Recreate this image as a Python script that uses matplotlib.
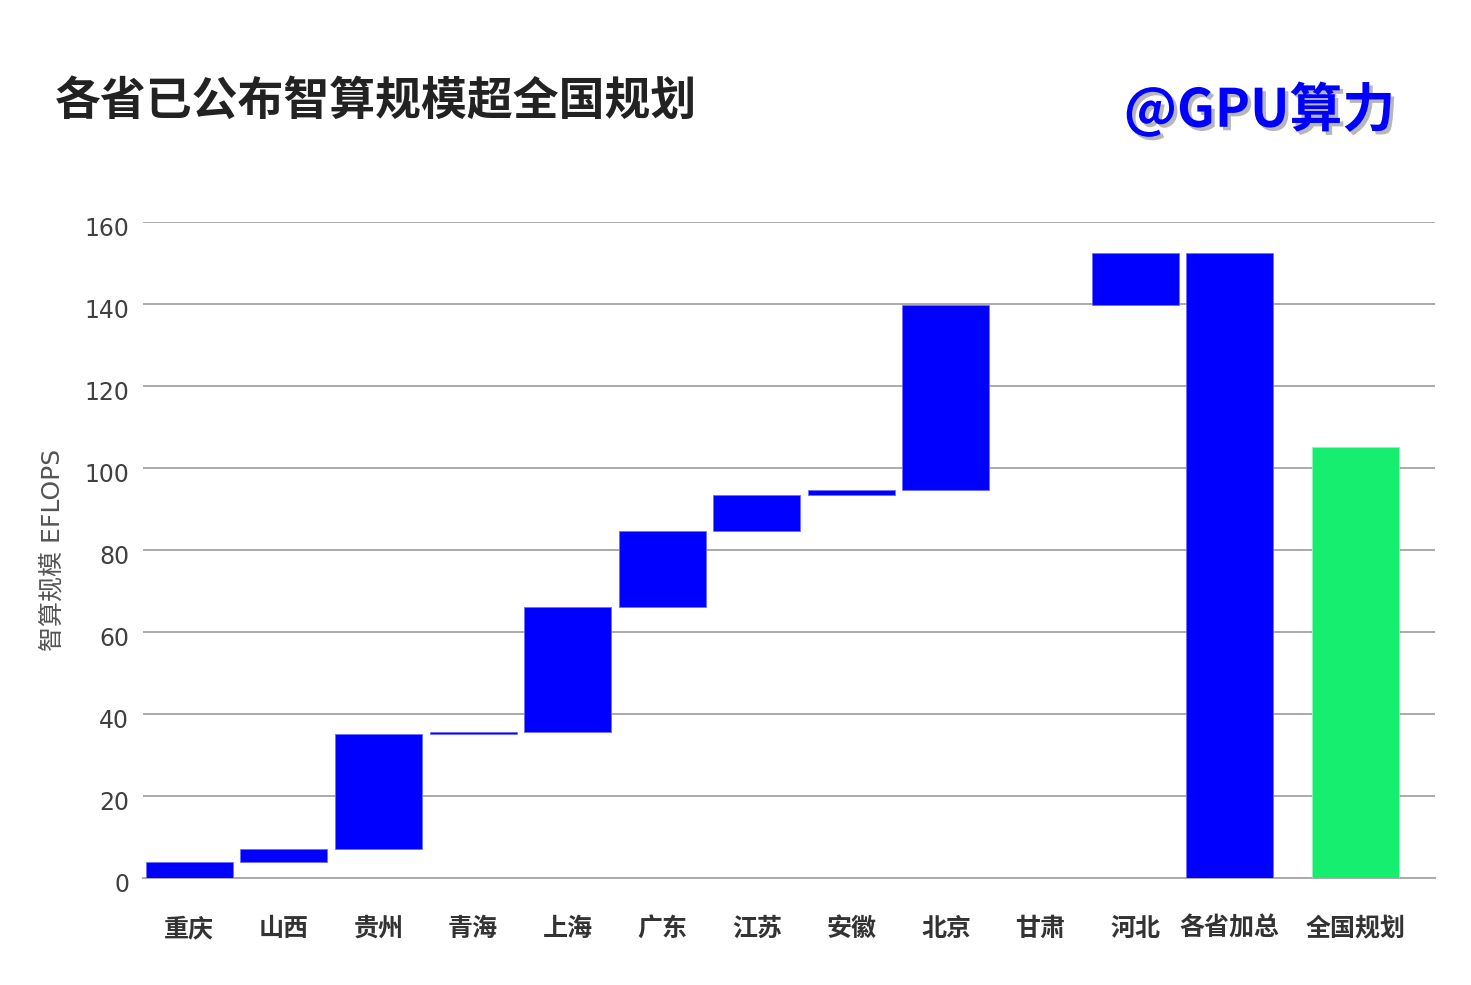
import numpy as np
import matplotlib
matplotlib.use('Agg')
import matplotlib.pyplot as plt
import matplotlib.patheffects as pe
import matplotlib.transforms as mtransforms

plt.rcParams['font.family'] = ['Noto Sans CJK SC', 'DejaVu Sans']

# provinces (waterfall increments), then total and national plan
provinces = ['重庆', '山西', '贵州', '青海', '上海', '广东', '江苏', '安徽', '北京', '甘肃', '河北']
increments = [4.0, 3.2, 27.9, 0.6, 30.3, 18.7, 8.8, 1.2, 45.1, 0.0, 12.7]
total_label = '各省加总'
plan_label = '全国规划'
plan_value = 105.1
yticks = [0, 20, 40, 60, 80, 100, 120, 140, 160]

blue = '#0000ff'
green = '#15ee6f'

tops = np.cumsum(increments)
bottoms = tops - np.array(increments)
total = tops[-1]

labels = provinces + [total_label, plan_label]
x = np.arange(len(labels), dtype=float)
x[-1] += 0.33   # a bit more room before the plan bar

fig = plt.figure(figsize=(14.71, 9.85), dpi=100)
ax = fig.add_axes([0.0972, 0.1086, 0.8783, 0.666])

w = 0.92
inc = np.array(increments)
nz = inc > 0   # 甘肃 has nothing to draw
ax.bar(x[:len(provinces)][nz], inc[nz], bottom=bottoms[nz], width=w, color=blue,
       edgecolor='#6f6fff', linewidth=0.6, zorder=3)
ax.bar(x[len(provinces)], total, width=w, color=blue,
       edgecolor='#6f6fff', linewidth=0.6, zorder=3)
ax.bar(x[-1], plan_value, width=w, color=green,
       edgecolor='#8ff5b5', linewidth=0.6, zorder=3)

ax.set_ylim(0, 160)
ax.set_xlim(-0.49, 13.17)
ax.set_yticks(yticks)
ax.set_yticklabels([str(v) for v in yticks], fontsize=17, color='#404040',
                   family=['DejaVu Sans'])
ax.set_xticks(x)
ax.set_xticklabels(labels, fontsize=18, fontweight='bold', color='#333333')
ax.tick_params(axis='y', length=0, pad=10)
ax.tick_params(axis='x', length=0, pad=28)
# numbers sit a little below their gridlines
shift = mtransforms.ScaledTranslation(0, -4 / 100, fig.dpi_scale_trans)
for lab in ax.get_yticklabels():
    lab.set_transform(lab.get_transform() + shift)

ax.grid(axis='y', color='#aaaaaa', linewidth=1.4, zorder=0)
for s in ['top', 'right', 'left']:
    ax.spines[s].set_visible(False)
ax.spines['bottom'].set_color('#aaaaaa')
ax.spines['bottom'].set_linewidth(1.4)

ax.set_ylabel('智算规模 EFLOPS', fontsize=18, color='#555555', labelpad=14,
              family=['DejaVu Sans', 'Noto Sans CJK SC'])

fig.text(0.037, 0.897, '各省已公布智算规模超全国规划', fontsize=33,
         fontweight='bold', color='#222222', va='center', ha='left')
fig.text(0.764, 0.888, '@GPU算力', fontsize=38, fontweight='bold',
         color=blue, va='center', ha='left',
         path_effects=[pe.withSimplePatchShadow(offset=(2.5, -2.5),
                                                shadow_rgbFace='#888888', alpha=0.6)])

plt.savefig('out.png', dpi=100)
